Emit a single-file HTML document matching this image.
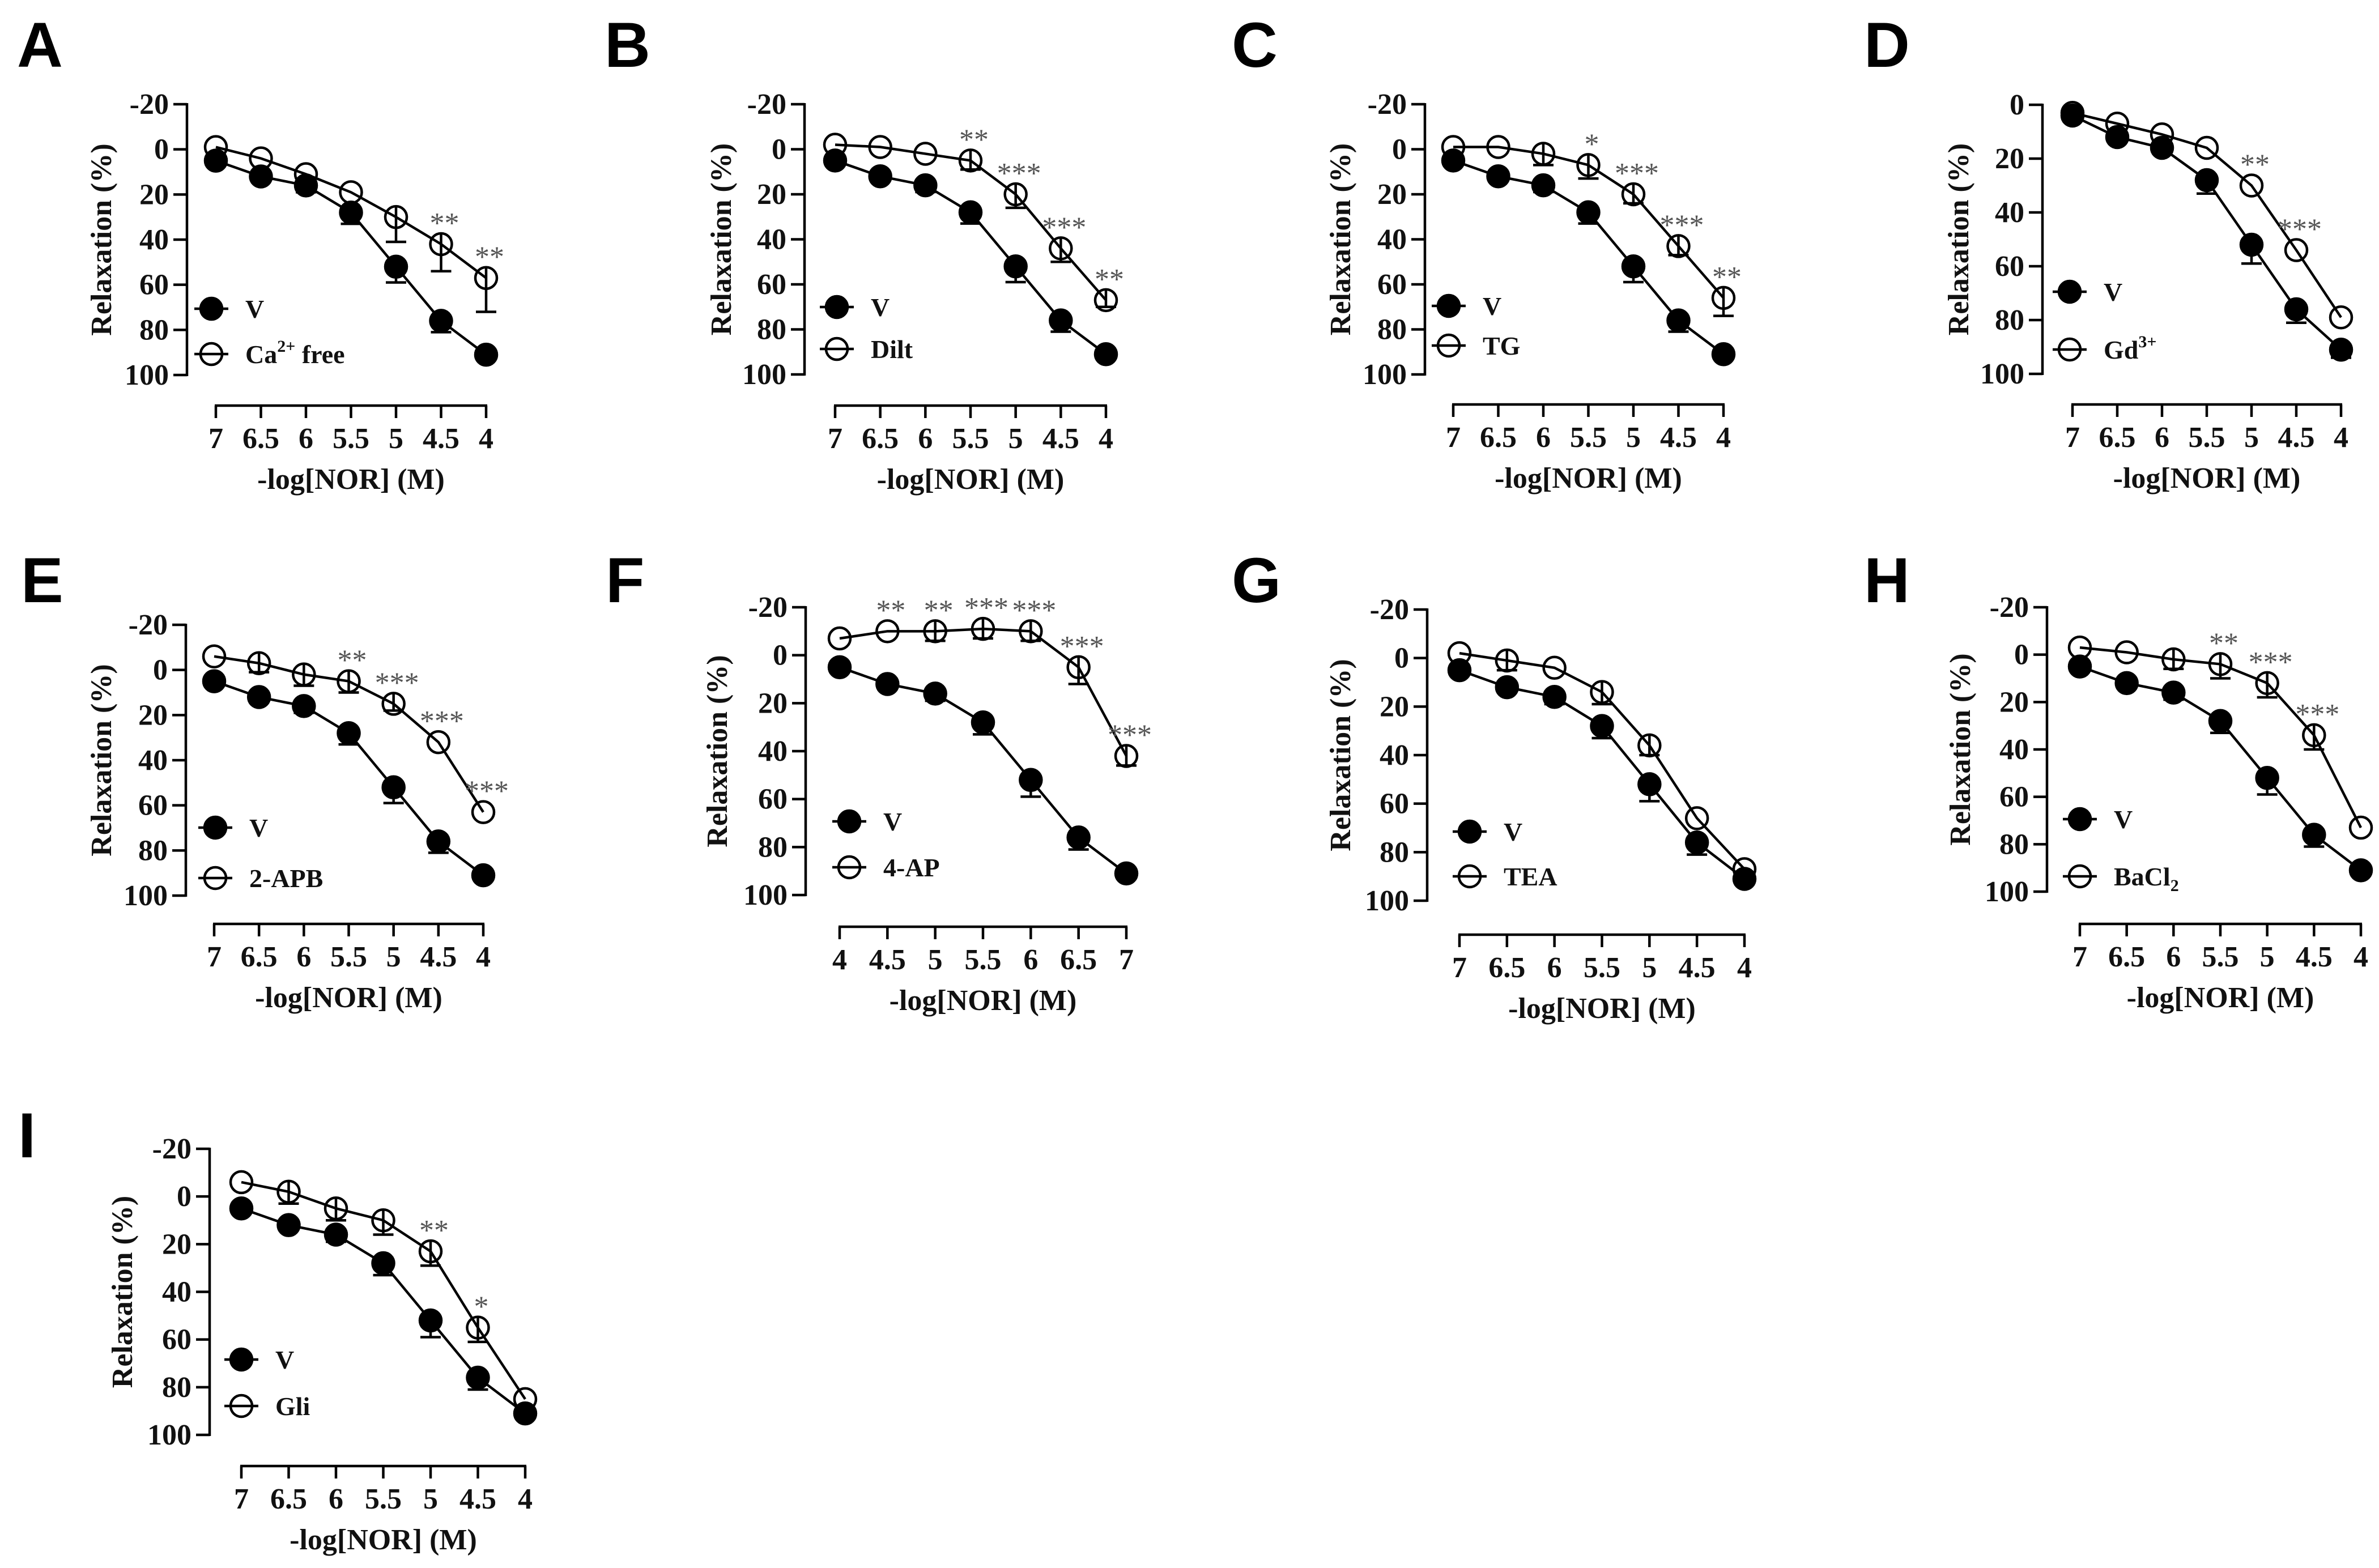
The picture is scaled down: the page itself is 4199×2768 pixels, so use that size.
<!DOCTYPE html>
<html><head><meta charset="utf-8">
<style>
html,body{margin:0;padding:0;background:#fff;}
svg{display:block;}
.tick{font-family:"Liberation Serif",serif;font-weight:bold;font-size:52px;fill:#111;}
.ttl{font-family:"Liberation Serif",serif;font-weight:bold;font-size:52px;fill:#111;}
.leg{font-family:"Liberation Serif",serif;font-weight:bold;font-size:46px;fill:#111;}
.star{font-family:"Liberation Serif",serif;font-size:52px;fill:#555;}
.letter{font-family:"Liberation Sans",sans-serif;font-weight:bold;font-size:112px;fill:#000;}
</style></head>
<body>
<svg id="fig" width="4199" height="2768" viewBox="0 0 4199 2768" xmlns="http://www.w3.org/2000/svg"></svg>
<script>
// ---- data ----
const xTickLabels = ['7','6.5','6','5.5','5','4.5','4'];
const xTickLabelsRev = ['4','4.5','5','5.5','6','6.5','7'];
const vehicleVals = [5,12,16,28,52,76,91];
const vehicleErr = [0,0,3,5,7,5,2];
const vehicleValsD = [4,12,16,28,52,76,91];
const vehicleErrD = [0,0,0,5,7,5,3];
const caFreeVals = [-1,4,11,19,30,42,57];
const caFreeErr = [0,0,0,0,11,12,15];
const caFreeStars = ['','','','','','**','**'];
const diltVals = [-2,-1,2,5,20,44,67];
const diltErr = [0,0,0,4,6,6,3];
const diltStars = ['','','','**','***','***','**'];
const tgVals = [-1,-1,2,7,20,43,66];
const tgErr = [0,0,5,6,4,4,8];
const tgStars = ['','','','*','***','***','**'];
const gdVals = [3,7,11,16,30,54,79];
const gdErr = [0,0,0,0,0,0,0];
const gdStars = ['','','','','**','***',''];
const apbVals = [-6,-3,2,5,15,32,63];
const apbErr = [0,4,5,5,3,0,0];
const apbStars = ['','','','**','***','***','***'];
const ap4Vals = [-7,-10,-10,-11,-10,5,42];
const ap4Err = [0,0,4,4,4,7,4];
const ap4Stars = ['','**','**','***','***','***','***'];
const teaVals = [-2,1,4,14,36,66,87];
const teaErr = [0,4,0,5,4,0,0];
const teaStars = ['','','','','','',''];
const baclVals = [-3,-1,2,4,12,34,73];
const baclErr = [0,0,4,6,6,6,0];
const baclStars = ['','','','**','***','***',''];
const gliVals = [-6,-2,5,10,23,55,85];
const gliErr = [0,5,5,6,6,6,0];
const gliStars = ['','','','','**','*',''];

// ---- layout (pixel geometry) ----
const panels = [
 {id:'a',letter:'A',lx:30,ly:118,ax:330,yT:184,yB:662,yMin:-20,xa:716,x0:381,x1:858,ylx:178,legX:373,legY1:545,legY2:625,leg:'Ca',legSup:'2+',legTail:' free',ticks:xTickLabels,v:vehicleVals,ve:vehicleErr,t:caFreeVals,te:caFreeErr,s:caFreeStars},
 {id:'b',letter:'B',lx:1067,ly:118,ax:1420,yT:184,yB:661,yMin:-20,xa:716,x0:1474,x1:1952,ylx:1272,legX:1477,legY1:542,legY2:616,leg:'Dilt',ticks:xTickLabels,v:vehicleVals,ve:vehicleErr,t:diltVals,te:diltErr,s:diltStars},
 {id:'c',letter:'C',lx:2174,ly:118,ax:2515,yT:184,yB:661,yMin:-20,xa:714,x0:2565,x1:3042,ylx:2365,legX:2557,legY1:540,legY2:610,leg:'TG',ticks:xTickLabels,v:vehicleVals,ve:vehicleErr,t:tgVals,te:tgErr,s:tgStars},
 {id:'d',letter:'D',lx:3290,ly:118,ax:3605,yT:185,yB:660,yMin:0,xa:714,x0:3658,x1:4132,ylx:3456,legX:3653,legY1:515,legY2:617,leg:'Gd',legSup:'3+',ticks:xTickLabels,v:vehicleValsD,ve:vehicleErrD,t:gdVals,te:gdErr,s:gdStars},
 {id:'e',letter:'E',lx:37,ly:1063,ax:328,yT:1103,yB:1581,yMin:-20,xa:1631,x0:378,x1:853,ylx:178,legX:380,legY1:1461,legY2:1550,leg:'2-APB',ticks:xTickLabels,v:vehicleVals,ve:vehicleErr,t:apbVals,te:apbErr,s:apbStars},
 {id:'f',letter:'F',lx:1069,ly:1063,ax:1422,yT:1072,yB:1580,yMin:-20,xa:1636,x0:1482,x1:1988,ylx:1265,legX:1499,legY1:1450,legY2:1531,leg:'4-AP',ticks:xTickLabelsRev,v:vehicleVals,ve:vehicleErr,t:ap4Vals,te:ap4Err,s:ap4Stars},
 {id:'g',letter:'G',lx:2174,ly:1063,ax:2519,yT:1076,yB:1590,yMin:-20,xa:1650,x0:2576,x1:3079,ylx:2365,legX:2594,legY1:1468,legY2:1547,leg:'TEA',ticks:xTickLabels,v:vehicleVals,ve:vehicleErr,t:teaVals,te:teaErr,s:teaStars},
 {id:'h',letter:'H',lx:3290,ly:1063,ax:3613,yT:1072,yB:1574,yMin:-20,xa:1631,x0:3671,x1:4167,ylx:3459,legX:3671,legY1:1446,legY2:1547,leg:'BaCl',legSub:'2',ticks:xTickLabels,v:vehicleVals,ve:vehicleErr,t:baclVals,te:baclErr,s:baclStars},
 {id:'i',letter:'I',lx:32,ly:2043,ax:370,yT:2028,yB:2533,yMin:-20,xa:2588,x0:426,x1:927,ylx:215,legX:426,legY1:2400,legY2:2482,leg:'Gli',ticks:xTickLabels,v:vehicleVals,ve:vehicleErr,t:gliVals,te:gliErr,s:gliStars}
];

const NS = 'http://www.w3.org/2000/svg';
const fig = document.getElementById('fig');
function mk(tag, attrs, parent){
  const e = document.createElementNS(NS, tag);
  for (const k in attrs) e.setAttribute(k, attrs[k]);
  parent.appendChild(e);
  return e;
}
const R = 19, SW = 4.5;

panels.forEach(p => {
  const g = mk('g', {}, fig);
  
  
  const yS = v => p.yT + (v - p.yMin) / (100 - p.yMin) * (p.yB - p.yT);
  const xS = i => p.x0 + i * (p.x1 - p.x0) / (p.ticks.length - 1);

  const L = mk('text', {x:p.lx, y:p.ly, class:'letter'}, g);
  L.textContent = p.letter;
  
  

  const ya = mk('line', {x1:p.ax, y1:p.yT-2, x2:p.ax, y2:p.yB+2, stroke:'#000','stroke-width':SW}, g);
  
  
  for (let v = p.yMin; v <= 100; v += 20) {
    const y = yS(v);
    const tk = mk('line', {x1:p.ax-24, y1:y, x2:p.ax, y2:y, stroke:'#000','stroke-width':SW}, g);
    
    
    const tl = mk('text', {x:p.ax-32, y:y+17, class:'tick','text-anchor':'end'}, g);
    tl.textContent = String(v);
    
    
  }
  const yl = mk('text', {x:0, y:0, class:'ttl','text-anchor':'middle', transform:'translate(' + (p.ylx+18) + ',' + ((p.yT+p.yB)/2) + ') rotate(-90)'}, g);
  yl.textContent = 'Relaxation (%)';
  
  

  const xa = mk('line', {x1:p.x0-2, y1:p.xa, x2:p.x1+2, y2:p.xa, stroke:'#000','stroke-width':SW}, g);
  
  
  p.ticks.forEach((t, i) => {
    const x = xS(i);
    const tk = mk('line', {x1:x, y1:p.xa, x2:x, y2:p.xa+22, stroke:'#000','stroke-width':SW}, g);
    
    
    const tl = mk('text', {x:x, y:p.xa+75, class:'tick','text-anchor':'middle'}, g);
    tl.textContent = t;
    
    
  });
  const xt = mk('text', {x:(p.x0+p.x1)/2, y:p.xa+147, class:'ttl','text-anchor':'middle'}, g);
  xt.textContent = '-log[NOR] (M)';
  
  

  function series(vals, errs, filled, name) {
    const sg = mk('g', {}, g);
    
    
    const pts = vals.map((v, i) => xS(i) + ',' + yS(v)).join(' ');
    const pl = mk('polyline', {points:pts, fill:'none', stroke:'#000','stroke-width':SW}, sg);
    
    
    vals.forEach((v, i) => {
      if (errs[i] > 0) {
        const x = xS(i), y0 = yS(v) - (filled ? 0 : R), y1 = yS(v + errs[i]);
        const eb = mk('path', {d:'M' + x + ' ' + y0 + 'V' + y1 + 'M' + (x-18) + ' ' + y1 + 'H' + (x+18), stroke:'#000','stroke-width':SW, fill:'none'}, sg);
        
        
      }
    });
    vals.forEach((v, i) => {
      const c = mk('circle', {cx:xS(i), cy:yS(v), r:R, fill:filled ? '#000' : 'none', stroke:'#000','stroke-width':SW}, sg);
      
      
    });
  }
  series(p.v, p.ve, true, 'vehicle-series');
  series(p.t, p.te, false, 'treatment-series');
  p.s.forEach((s, i) => {
    if (!s) return;
    const st = mk('text', {x:xS(i)+6, y:yS(p.t[i])-20, class:'star','text-anchor':'middle'}, g);
    st.textContent = s;
    
    
  });

  const lg = mk('g', {}, g);
  
  
  [[p.legY1, true], [p.legY2, false]].forEach(([y, f], k) => {
    const ln = mk('line', {x1:p.legX-30, y1:y, x2:p.legX+30, y2:y, stroke:'#000','stroke-width':SW}, lg);
    
    
    const c = mk('circle', {cx:p.legX, cy:y, r:R, fill:f ? '#000' : 'none', stroke:'#000','stroke-width':SW}, lg);
    
    
    const t = mk('text', {x:p.legX+60, y:y+16, class:'leg'}, lg);
    
    
    if (k === 0) { t.textContent = 'V'; }
    else {
      t.appendChild(document.createTextNode(p.leg));
      if (p.legSup) {
        const sp = mk('tspan', {'font-size':'30px', dy:'-20'}, t);
        sp.textContent = p.legSup;
        if (p.legTail) { const tl = mk('tspan', {dy:'20'}, t); tl.textContent = p.legTail; }
      }
      if (p.legSub) {
        const sb = mk('tspan', {'font-size':'30px', dy:'10'}, t);
        sb.textContent = p.legSub;
      }
    }
  });
});
</script>
</body></html>
